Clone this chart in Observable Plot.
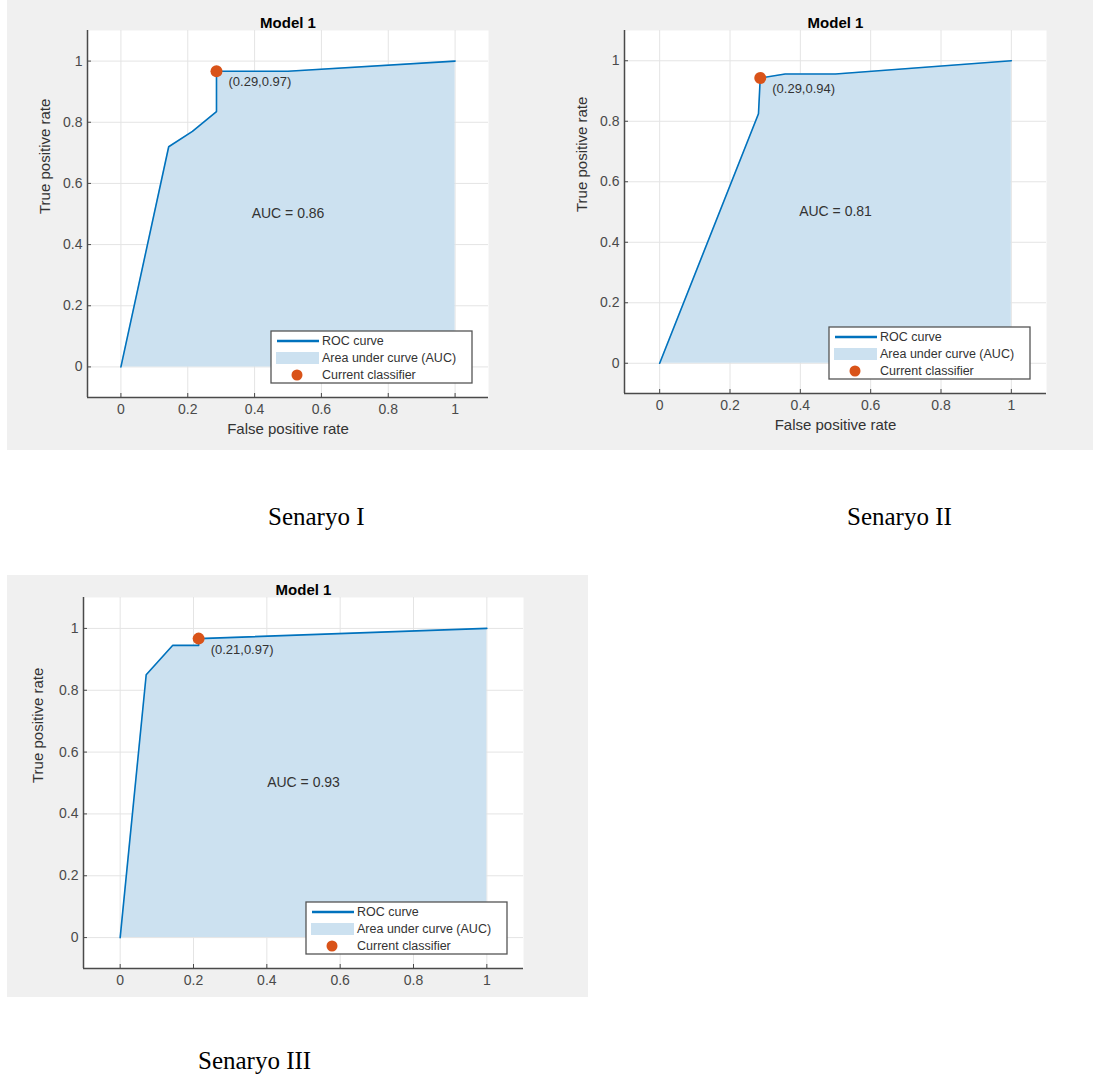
<!DOCTYPE html>
<html><head><meta charset="utf-8">
<script src="https://cdn.jsdelivr.net/npm/d3@7"></script>
<script src="https://cdn.jsdelivr.net/npm/@observablehq/plot@0.6"></script>
<style>
body{margin:0;background:#fff;width:1093px;height:1083px;position:relative;overflow:hidden;font-family:"Liberation Sans",Arial,sans-serif}
.bg{position:absolute;background:#f0f0f0}
.panel{position:absolute}
.caption{position:absolute;font-family:"Liberation Serif","Times New Roman",serif;font-size:25px;line-height:1;color:#000;white-space:nowrap}
</style></head><body>
<div class="bg" style="left:7px;top:0;width:1086px;height:450px"></div>
<div class="bg" style="left:7px;top:575px;width:581px;height:422px"></div>
<div id="p0" class="panel" style="left:7px;top:0"></div>
<div id="p1" class="panel" style="left:555px;top:0"></div>
<div id="p2" class="panel" style="left:7px;top:575px"></div>
<div id="c0" class="caption" style="left:268px;top:504px"></div>
<div id="c1" class="caption" style="left:847px;top:504px"></div>
<div id="c2" class="caption" style="left:198px;top:1048px"></div>
<script>
// ---- data ----
const fpr1 = [0, 0.143, 0.214, 0.286, 0.286, 0.5, 1];
const tpr1 = [0, 0.72, 0.77, 0.835, 0.967, 0.967, 1];
const fpr2 = [0, 0.281, 0.286, 0.357, 0.5, 1];
const tpr2 = [0, 0.825, 0.943, 0.956, 0.956, 1];
const fpr3 = [0, 0.071, 0.143, 0.214, 0.214, 1];
const tpr3 = [0, 0.85, 0.945, 0.945, 0.967, 1];
const opFpr = [0.286, 0.286, 0.214];
const opTpr = [0.967, 0.943, 0.967];
const opLabels = ["(0.29,0.97)", "(0.29,0.94)", "(0.21,0.97)"];
const aucLabels = ["AUC = 0.86", "AUC = 0.81", "AUC = 0.93"];
const titles = ["Model 1", "Model 1", "Model 1"];
const captions = ["Senaryo I", "Senaryo II", "Senaryo III"];
const xLabels = ["False positive rate", "False positive rate", ""];
const yLabel = "True positive rate";
const legendLabels = ["ROC curve", "Area under curve (AUC)", "Current classifier"];
const ticks = [0, 0.2, 0.4, 0.6, 0.8, 1];
const domain = [-0.1, 1.1];

const fprs = [fpr1, fpr2, fpr3];
const tprs = [tpr1, tpr2, tpr3];

// ---- style ----
const LINE = "#0072bd", AREA = "#cce1f0", DOT = "#d95319", GRID = "#e4e4e4", AXIS = "#4a4a4a", TEXT = "#333";
const sizes = [
  {width: 490, height: 450, marginLeft: 80, marginRight: 9, marginTop: 30, marginBottom: 53, ylab: -42},
  {width: 538, height: 450, marginLeft: 69, marginRight: 47, marginTop: 30, marginBottom: 57, ylab: -42},
  {width: 581, height: 422, marginLeft: 76, marginRight: 65, marginTop: 22, marginBottom: 29, ylab: -45}
];

function legendMark(index, scales, values, dims) {
  const w = 201, h = 52;
  const x0 = dims.width - dims.marginRight - 16 - w;
  const y0 = dims.height - dims.marginBottom - 14 - h;
  const g = d3.create("svg:g").attr("transform", `translate(${x0},${y0})`);
  g.append("rect").attr("width", w).attr("height", h).attr("fill", "white").attr("stroke", "#555").attr("stroke-width", 1.3);
  g.append("line").attr("x1", 6).attr("x2", 48).attr("y1", 10).attr("y2", 10).attr("stroke", LINE).attr("stroke-width", 2.5);
  g.append("rect").attr("x", 5).attr("y", 21).attr("width", 43).attr("height", 12).attr("fill", AREA);
  g.append("circle").attr("cx", 26).attr("cy", 44).attr("r", 5.5).attr("fill", DOT);
  legendLabels.forEach((t, k) => {
    g.append("text").attr("x", 51).attr("y", 10 + 17 * k).attr("dy", "0.35em")
      .attr("text-anchor", "start").attr("font-size", 12.5).attr("fill", TEXT).text(t);
  });
  return g.node();
}

function chart(i) {
  const rows = fprs[i].map((f, j) => ({fpr: f, tpr: tprs[i][j]}));
  const op = [{fpr: opFpr[i], tpr: opTpr[i], label: opLabels[i]}];
  const s = sizes[i];
  const fmt = d => String(d);
  const marks = [
    Plot.frame({fill: "white", stroke: null}),
    Plot.gridX({ticks, stroke: GRID, strokeOpacity: 1}),
    Plot.gridY({ticks, stroke: GRID, strokeOpacity: 1}),
    Plot.areaY(rows, {x: "fpr", y1: 0, y2: "tpr", fill: AREA}),
    Plot.line(rows, {x: "fpr", y: "tpr", stroke: LINE, strokeWidth: 1.6}),
    Plot.ruleX([domain[0]], {stroke: AXIS, strokeWidth: 1.5}),
    Plot.ruleY([domain[0]], {stroke: AXIS, strokeWidth: 1.5}),
    Plot.axisX({ticks, tickFormat: fmt, tickSize: -4, tickPadding: 11, fontSize: 14, color: AXIS}),
    Plot.axisY({ticks, tickFormat: fmt, tickSize: -4, tickPadding: 9, fontSize: 14, color: AXIS, label: null}),
    Plot.text([aucLabels[i]], {frameAnchor: "middle", fontSize: 14, fill: TEXT}),
    Plot.dot(op, {x: "fpr", y: "tpr", r: 6, fill: DOT}),
    Plot.text(op, {x: "fpr", y: "tpr", text: "label", dx: 12, dy: 11, textAnchor: "start", fontSize: 13, fill: TEXT}),
    Plot.text([titles[i]], {frameAnchor: "top", dy: -13, fontWeight: "bold", fontSize: 15, fill: "#000"}),
    Plot.text([yLabel], {frameAnchor: "left", rotate: -90, dx: s.ylab, fontSize: 15, fill: TEXT}),
    legendMark
  ];
  if (xLabels[i]) marks.push(Plot.text([xLabels[i]], {frameAnchor: "bottom", dy: 36, fontSize: 15, fill: TEXT}));
  return Plot.plot({
    width: s.width, height: s.height,
    marginLeft: s.marginLeft, marginRight: s.marginRight, marginTop: s.marginTop, marginBottom: s.marginBottom,
    style: {background: "transparent", fontFamily: "Liberation Sans, Arial, sans-serif", overflow: "visible"},
    x: {domain, label: null},
    y: {domain, label: null},
    marks
  });
}

[0, 1, 2].forEach(i => {
  document.getElementById("p" + i).appendChild(chart(i));
  document.getElementById("c" + i).textContent = captions[i];
});
</script>
</body></html>
